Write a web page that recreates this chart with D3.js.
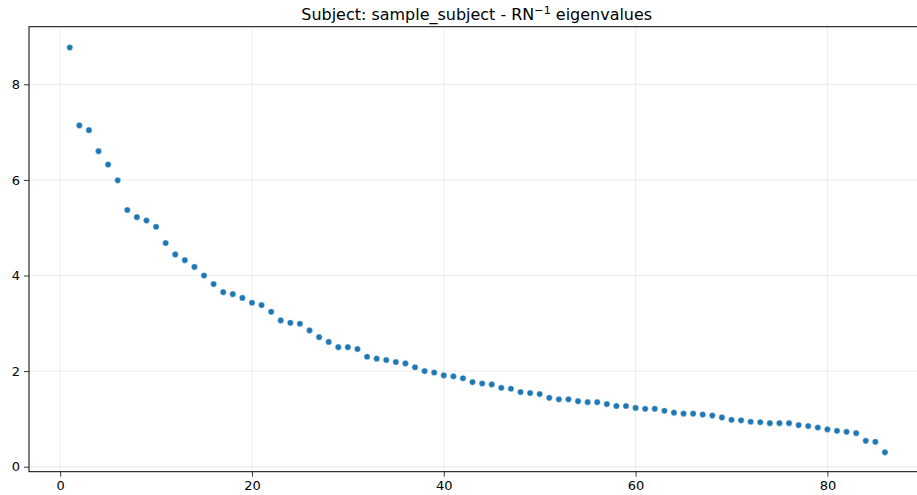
<!DOCTYPE html>
<html>
<head>
<meta charset="utf-8">
<script src="https://cdn.jsdelivr.net/npm/d3@7"></script>
<style>
  html, body { margin: 0; padding: 0; background: #fff; }
  svg { display: block; }
  text { font-family: "DejaVu Sans", sans-serif; }
</style>
</head>
<body>
<svg id="chart" width="917" height="495"></svg>
<script>
const indices = d3.range(1, 87);
const eigenvalues = [
  8.77, 7.14, 7.04, 6.60, 6.32, 5.99, 5.37, 5.22, 5.15, 5.02,
  4.68, 4.44, 4.32, 4.18, 4.00, 3.82, 3.65, 3.61, 3.53, 3.43,
  3.38, 3.24, 3.06, 3.01, 2.99, 2.85, 2.71, 2.61, 2.50, 2.50,
  2.46, 2.30, 2.26, 2.23, 2.19, 2.16, 2.08, 2.00, 1.97, 1.91,
  1.89, 1.85, 1.77, 1.74, 1.72, 1.65, 1.63, 1.56, 1.54, 1.52,
  1.44, 1.41, 1.41, 1.37, 1.35, 1.35, 1.31, 1.27, 1.27, 1.23,
  1.21, 1.21, 1.17, 1.13, 1.11, 1.11, 1.09, 1.07, 1.03, 0.98,
  0.97, 0.94, 0.93, 0.91, 0.91, 0.91, 0.87, 0.85, 0.82, 0.78,
  0.75, 0.73, 0.70, 0.54, 0.52, 0.30
];
const xTicks = [0, 20, 40, 60, 80];
const yTicks = [0, 2, 4, 6, 8];
const titleMain = "Subject: sample_subject - RN";
const titleSup = "\u22121";
const titleEnd = " eigenvalues";

(function () {
const svg = d3.select("#chart");
const mLeft = 29, mRight = 925.7, mTop = 26.7, mBottom = 471.7;

const x = d3.scaleLinear().domain([-3.25, 90.25]).range([mLeft, mRight]);
const y = d3.scaleLinear().domain([-0.105, 9.205]).range([mBottom, mTop]);

// grid
const grid = svg.append("g");
grid.selectAll("line.gx").data(xTicks).enter().append("line")
  .attr("x1", d => x(d)).attr("x2", d => x(d))
  .attr("y1", mTop).attr("y2", mBottom)
  .attr("stroke", "#b0b0b0").attr("stroke-opacity", 0.3).attr("stroke-width", 0.8);
grid.selectAll("line.gy").data(yTicks).enter().append("line")
  .attr("x1", mLeft).attr("x2", mRight)
  .attr("y1", d => y(d)).attr("y2", d => y(d))
  .attr("stroke", "#b0b0b0").attr("stroke-opacity", 0.3).attr("stroke-width", 0.8);

// points
svg.append("g").selectAll("circle").data(eigenvalues).enter().append("circle")
  .attr("cx", (d, i) => x(indices[i]))
  .attr("cy", d => y(d))
  .attr("r", 3.1)
  .attr("fill", "#1f77b4")
  .attr("stroke", "#ffffff")
  .attr("stroke-width", 0.4);

// axes
const xAxis = d3.axisBottom(x).tickValues(xTicks).tickSize(5).tickPadding(4).tickFormat(d3.format("d"));
const yAxis = d3.axisLeft(y).tickValues(yTicks).tickSize(5).tickPadding(4).tickFormat(d3.format("d"));

const gx = svg.append("g").attr("transform", `translate(0,${mBottom})`).call(xAxis);
const gy = svg.append("g").attr("transform", `translate(${mLeft},0)`).call(yAxis);
[gx, gy].forEach(g => {
  g.select(".domain").remove();
  g.selectAll("text").attr("font-size", 13).attr("fill", "#000").style("font-family", "DejaVu Sans, sans-serif");
  g.selectAll("line").attr("stroke", "#000").attr("stroke-width", 0.8);
});

// spines
svg.append("rect")
  .attr("x", mLeft).attr("y", mTop)
  .attr("width", mRight - mLeft).attr("height", mBottom - mTop)
  .attr("fill", "none").attr("stroke", "#000").attr("stroke-width", 1);

// title: sized so its width matches the reference (~351px), centred on the axes
const baseSize = 16;
const t = svg.append("text")
  .attr("x", 476.7).attr("y", 20)
  .attr("text-anchor", "middle")
  .attr("font-size", baseSize)
  .attr("fill", "#000");
const s1 = t.append("tspan").text(titleMain);
const s2 = t.append("tspan").attr("font-size", baseSize * 0.7).attr("dy", -6).text(titleSup);
const s3 = t.append("tspan").attr("dy", 6).text(titleEnd);
const w = t.node().getComputedTextLength();
if (w > 0) {
  const fs = Math.max(12, Math.min(17, baseSize * 351 / w));
  t.attr("font-size", fs);
  s2.attr("font-size", fs * 0.7).attr("dy", -fs * 0.38);
  s3.attr("dy", fs * 0.38);
}
})();
</script>
</body>
</html>
